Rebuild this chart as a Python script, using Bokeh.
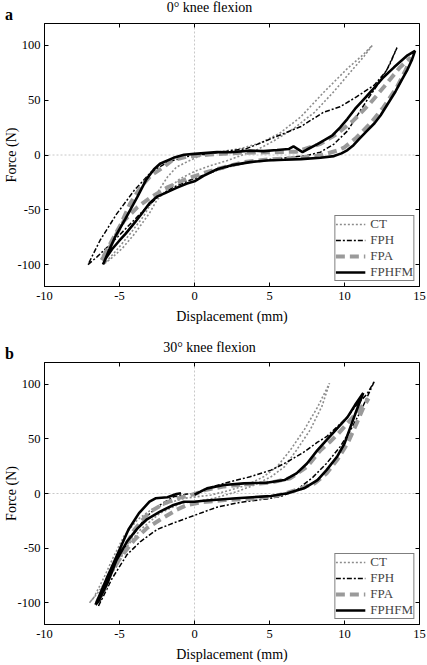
import numpy as np
from bokeh.plotting import figure
from bokeh.layouts import column
from bokeh.models import (Range1d, FixedTicker, LinearAxis, Span, Div,
                          Legend, LegendItem)
from bokeh.embed import file_html
from bokeh.resources import INLINE

# ---------------- data ----------------
x_ticks = [-10, -5, 0, 5, 10, 15]
x_tick_labels = ["-10", "-5", "0", "5", "10", "15"]
y_ticks = [-100, -50, 0, 50, 100]
y_tick_labels = ["-100", "-50", "0", "50", "100"]
x_range = [-10, 15]
y_range = [-120, 120]

series_names = ["CT", "FPH", "FPA", "FPHFM"]
panel_titles = ["0° knee flexion", "30° knee flexion"]
panel_letters = ["a", "b"]
x_label = "Displacement (mm)"
y_label = "Force (N)"
nan = float("nan")

# Panel a (0 deg): closed hysteresis loops, loading branch then unloading branch
a_ct_x = [-6.0, -5.6, -4.8, -4.0, -3.0, -2.5, -1.8, -1.0, 0.0, 1.0, 2.2, 3.3, 4.2, 5.3, 6.6, 8.0, 9.3, 10.6, 11.3, 11.85,
          11.2, 10.2, 9.4, 8.6, 7.1, 5.7, 4.4, 3.1, 1.5, 0.3, -0.4, -1.2, -1.8, -2.5, -3.4, -4.3, -5.2, -6.0]
a_ct_y = [-99, -95, -85, -72, -53, -41, -31, -22, -15, -10, -5, 0.5, 5, 13, 24, 39, 58, 79, 90, 100,
          91, 79, 68, 57, 35, 20, 11, 6, 2.5, -1, -5.6, -11, -20, -35, -56, -72, -87, -99]

a_fph_x = [-7.1, -6.5, -5.5, -4.5, -3.5, -2.5, -1.5, -0.5, 0.5, 1.5, 2.5, 3.7, 5.0, 6.5, 7.5, 8.4, 9.3, 10.2, 10.8, 11.5, 12.4, 13.0, 13.5,
           12.8, 12.0, 10.8, 9.7, 8.6, 7.1, 5.3, 3.5, 2.0, 0.5, -0.5, -1.8, -2.9, -4.0, -5.2, -6.3, -7.1]
a_fph_y = [-100, -93, -80, -66, -52, -39, -30, -24, -19, -14, -10, -6.5, -4, -2, -0.5, 2.6, 10, 22, 35, 50, 68, 82, 98,
           77, 64, 53, 44, 39, 26, 16, 6, 3, 0.5, -1.4, -6.5, -15.7, -32, -54, -78, -100]

a_fpa_x = [-6.2, -5.8, -5.2, -4.7, -3.8, -2.9, -1.8, -0.5, 0.8, 2.0, 3.3, 5.0, 7.0, 8.5, 9.5, 10.0, 10.8, 11.7, 12.6, 13.5, 14.1, 14.4,
           13.7, 12.8, 11.7, 10.6, 9.5, 8.4, 6.8, 5.0, 3.0, 1.0, -0.5, -1.5, -2.0, -2.9, -3.6, -4.3, -4.9, -5.5, -6.2]
a_fpa_y = [-96, -88, -72, -60, -47.5, -38.5, -29.5, -21.7, -15.7, -11, -6.5, -4, -2.5, 0, 4, 7, 16, 28.5, 43.6, 62, 78, 89,
           80, 65, 47, 31.5, 19.3, 10.2, 3, 2.5, 2, 0.5, -1.5, -5, -10.5, -18.7, -29.4, -44.5, -63, -78, -96]

a_fphfm_x = [-6.1, -5.9, -5.5, -5.0, -4.6, -4.0, -3.6, -3.0, -2.5, -2.0, -1.2, -0.5, 0.0, 0.6, 1.5, 2.6, 3.7, 4.8, 6.0, 7.1, 8.4, 9.3,
             9.8, 10.2, 10.6, 11.0, 11.5, 12.0, 12.4, 12.9, 13.4, 13.8, 14.2, 14.5, 14.7,
             14.2, 13.3, 12.6, 11.9, 11.3, 10.7, 10.2, 9.7, 9.2, 8.2, 7.5, 7.2, 6.6, 6.3, 5.5, 4.6, 3.7, 2.4, 1.5, 0.0,
             -0.7, -1.4, -2.3, -2.7, -3.2, -3.8, -4.6, -5.3, -5.7, -6.1]
a_fphfm_y = [-100, -94, -86, -78, -72, -62, -55, -44, -38, -35, -30, -26, -24, -19, -13, -9, -6.5, -5, -4.4, -3.8, -2.5, -1,
             1.5, 4.5, 9, 15, 22, 29, 36, 47, 58, 68, 78, 87, 95,
             91, 80, 71, 60, 51, 42, 33, 25, 18, 10, 5, 2.6, 7.8, 5.5, 4.5, 3.5, 4, 2.5, 2.6, 1,
             0.2, -2.6, -8, -13, -22, -38, -58, -75, -87, -100]

# Panel b (30 deg)
b_ct_x = [-7.0, -6.5, -5.8, -5.2, -4.5, -3.6, -2.3, -0.9, 0.2, 1.3, 2.8, 4.0, 5.1, 6.0, 6.8, 7.7, 8.5, 9.0,
          8.2, 7.3, 6.4, 5.5, 4.6, 3.5, 2.4, 1.1, -0.7, -1.8, -2.9, -3.8, -4.7, -5.4, -6.0, -6.7, -7.0]
b_ct_y = [-100, -92, -78, -67, -48.5, -33, -18, -9, -7, -4.4, 1.6, 7.8, 15.3, 24.5, 39.7, 58, 80, 101,
          79, 58, 40, 24.5, 15.3, 7.8, 3.2, -1.4, -4.4, -9, -15, -24, -39, -58, -76, -95, -100]

b_fph_x = [-6.4, -6.0, -5.5, -5.0, -4.5, -3.6, -2.5, -1.4, 0.0, 1.5, 3.1, 4.8, 5.8, 6.8, 7.9, 8.8, 9.7, 10.4, 11.1, 11.5, 12.0,
           11.5, 10.8, 10.2, 9.5, 8.8, 8.2, 7.3, 6.2, 5.1, 3.7, 2.4, 1.1, 0.0, -0.5, -1.4, -2.3, -3.2, -4.0, -4.9, -5.8, -6.4]
b_fph_y = [-103, -92, -78, -67, -56, -44, -33, -27, -20, -12.5, -8, -5, -2.5, 3, 15, 27.5, 42.7, 58, 76, 88, 103,
           91, 81, 70, 61, 52, 47, 38, 29, 21.4, 15.3, 10.8, 6, 0, -0.5, -3, -10.5, -21, -36, -55, -79, -103]

b_fpa_x = [-6.5, -6.0, -5.6, -4.9, -4.0, -3.2, -2.3, -1.2, -0.5, 0.5, 2.0, 4.0, 5.5, 6.8, 8.0, 8.8, 9.5, 10.2, 10.8, 11.3, 11.6,
           11.0, 10.3, 9.6, 9.0, 8.4, 7.5, 6.4, 5.1, 3.5, 2.0, 0.8, 0.0, -1.0, -2.0, -3.0, -4.0, -4.9, -5.7, -6.5]
b_fpa_y = [-100, -88, -73, -58, -42.4, -32, -24, -15, -10.5, -8, -6, -4.5, -2, 3.2, 9.3, 18.4, 30.6, 45.8, 64, 80, 87,
           77, 66, 55, 47, 39.7, 24.5, 14, 10, 8.5, 6.5, 3.5, -0.5, -4, -9, -17, -33, -55, -75, -100]

b_fphfm_x = [-6.6, -6.4, -5.8, -5.2, -4.5, -3.8, -3.2, -2.3, -1.4, -0.7, 0.0, 0.6, 2.8, 5.1, 6.2, 7.3, 8.2, 8.8, 9.5, 10.0, 10.4, 10.8, 11.25,
             10.7, 10.2, 9.5, 8.8, 8.2, 7.5, 6.8, 6.0, 4.8, 3.3, 1.95, 0.84, 0.0, nan,
             -0.9, -1.2, -1.8, -2.6, -3.0, -3.7, -4.4, -5.0, -5.8, -6.6]
b_fphfm_y = [-102, -98.7, -82, -61, -44, -32, -24, -16.6, -10.5, -7.5, -7.5, -6.6, -4.4, -2.3, 0.2, 4.7, 12.3, 21.4, 33.6, 45.8, 61, 76, 92,
             81, 70, 59.5, 48.8, 39.7, 27.5, 18.4, 12.3, 9.9, 9.3, 7.8, 4.7, -1, nan,
             0.3, -0.5, -3.5, -4.4, -7.5, -18, -33, -51.5, -76, -102]

panel_data = [
    [(a_ct_x, a_ct_y), (a_fph_x, a_fph_y), (a_fpa_x, a_fpa_y), (a_fphfm_x, a_fphfm_y)],
    [(b_ct_x, b_ct_y), (b_fph_x, b_fph_y), (b_fpa_x, b_fpa_y), (b_fphfm_x, b_fphfm_y)],
]

# ---------------- styles ----------------
FONT = "Liberation Serif"
styles = {
    "CT": dict(line_color="#8c8c8c", line_width=1.6, line_dash="2 2"),
    "FPH": dict(line_color="black", line_width=1.5, line_dash="5 2 2 2"),
    "FPA": dict(line_color="#9a9a9a", line_width=4, line_dash="9 5"),
    "FPHFM": dict(line_color="black", line_width=2.6),
}

# header band: (height, title top, letter top); figure: (height, top border, bottom border)
headers = [(21, 1, 7), (30, 11, 16)]
figs = [(309, 2, 44), (304, 2, 39)]
FRAME_H = 263
LEFT, RIGHT, WIDTH = 44, 8, 427


def make_header(idx):
    h, t_top, l_top = headers[idx]
    html = (
        f'<div style="position:relative;width:{WIDTH}px;height:{h}px;'
        f'font-family:\'{FONT}\',serif;color:black;">'
        f'<span style="position:absolute;left:{2 * LEFT - WIDTH + RIGHT + (WIDTH - RIGHT - LEFT) - 8}px;'
        f'width:{WIDTH - 2 * LEFT + 8}px;'
        f'top:{t_top}px;text-align:center;font-size:14px;line-height:14px;white-space:nowrap;">'
        f'{panel_titles[idx]}</span>'
        f'<span style="position:absolute;left:5px;top:{l_top}px;font-size:16px;line-height:16px;'
        f'font-weight:bold;">{panel_letters[idx]}</span></div>'
    )
    return Div(text=html, width=WIDTH, height=h, margin=0)


def make_panel(idx):
    height, top, bottom = figs[idx]
    p = figure(width=WIDTH, height=height,
               x_range=Range1d(*x_range), y_range=Range1d(*y_range),
               output_backend="svg", toolbar_location=None,
               min_border_left=LEFT, min_border_right=RIGHT,
               min_border_top=top, min_border_bottom=bottom)
    p.grid.visible = False
    p.outline_line_color = "black"
    p.outline_line_width = 1
    p.outline_line_alpha = 1
    p.background_fill_color = "white"
    p.border_fill_color = "white"

    p.xaxis.ticker = FixedTicker(ticks=x_ticks)
    p.xaxis.major_label_overrides = dict(zip(x_ticks, x_tick_labels))
    p.yaxis.ticker = FixedTicker(ticks=y_ticks)
    p.yaxis.major_label_overrides = dict(zip(y_ticks, y_tick_labels))
    for ax in (p.xaxis[0], p.yaxis[0]):
        ax.major_tick_in = 4
        ax.major_tick_out = 0
        ax.minor_tick_in = 0
        ax.minor_tick_out = 0
        ax.major_label_text_font = FONT
        ax.major_label_text_font_size = "12.5px"
        ax.major_label_text_color = "black"
        ax.axis_line_color = "black"
        ax.major_tick_line_color = "black"
        ax.axis_label_text_font = FONT
        ax.axis_label_text_font_size = "14px"
        ax.axis_label_text_font_style = "normal"
        ax.axis_label_text_color = "black"
    p.xaxis.major_label_standoff = 5
    p.xaxis.axis_label = x_label
    p.xaxis.axis_label_standoff = 6
    p.yaxis.major_label_standoff = 4
    p.yaxis.axis_label = y_label
    p.yaxis.axis_label_standoff = -4

    # mirrored tick marks on top/right
    ax_r = LinearAxis(ticker=FixedTicker(ticks=y_ticks),
                      major_label_overrides={t: "" for t in y_ticks},
                      major_label_text_font_size="0px", major_label_standoff=0,
                      major_tick_in=4, major_tick_out=0, minor_tick_in=0, minor_tick_out=0,
                      axis_line_color=None)
    p.add_layout(ax_r, "right")
    ax_t = LinearAxis(ticker=FixedTicker(ticks=x_ticks),
                      major_label_overrides={t: "" for t in x_ticks},
                      major_label_text_font_size="0px", major_label_standoff=0,
                      major_tick_in=4, major_tick_out=0, minor_tick_in=0, minor_tick_out=0,
                      axis_line_color=None)
    p.add_layout(ax_t, "above")

    # zero reference lines
    for dim in ("height", "width"):
        p.add_layout(Span(location=0, dimension=dim, line_color="#c8c8c8",
                          line_dash="2 2", line_width=1, level="underlay"))

    items = []
    for name, (xs, ys) in zip(series_names, panel_data[idx]):
        r = p.line(np.array(xs, dtype=float), np.array(ys, dtype=float), **styles[name])
        items.append(LegendItem(label=name, renderers=[r]))

    legend = Legend(items=items, location="bottom_right", margin=5, padding=0,
                    spacing=0, label_height=16, glyph_height=16, glyph_width=30,
                    label_standoff=5, label_text_font=FONT, label_text_font_size="13px",
                    border_line_color="black", border_line_width=1,
                    background_fill_color="white", background_fill_alpha=1)
    p.add_layout(legend)
    return p


layout = column(make_header(0), make_panel(0), make_header(1), make_panel(1), spacing=0)
open("out.html", "w").write(file_html(layout, INLINE))
